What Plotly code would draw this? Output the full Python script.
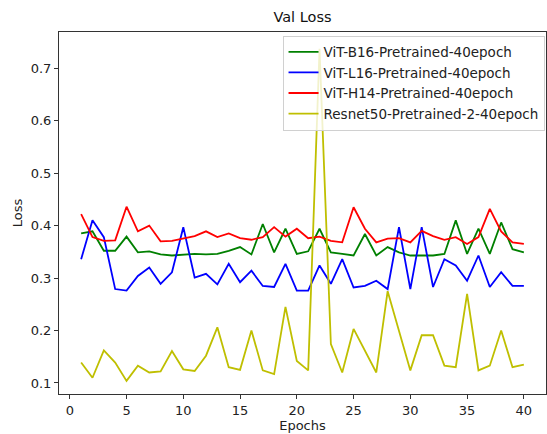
import plotly.graph_objects as go

epochs = list(range(1, 41))

vit_b16 = [0.385, 0.389, 0.352, 0.352, 0.379, 0.349, 0.351, 0.345, 0.343, 0.344,
           0.346, 0.345, 0.346, 0.352, 0.359, 0.345, 0.403, 0.349, 0.394, 0.346,
           0.351, 0.394, 0.349, 0.346, 0.343, 0.384, 0.343, 0.359, 0.349, 0.343,
           0.343, 0.343, 0.346, 0.410, 0.346, 0.394, 0.346, 0.406, 0.355, 0.349]

vit_l16 = [0.336, 0.410, 0.378, 0.279, 0.276, 0.304, 0.320, 0.289, 0.311, 0.397,
           0.301, 0.308, 0.288, 0.327, 0.292, 0.314, 0.285, 0.283, 0.327, 0.276,
           0.276, 0.324, 0.289, 0.336, 0.282, 0.285, 0.295, 0.279, 0.397, 0.279,
           0.397, 0.283, 0.336, 0.324, 0.295, 0.343, 0.283, 0.311, 0.285, 0.285]

vit_h14 = [0.422, 0.378, 0.371, 0.372, 0.436, 0.389, 0.400, 0.370, 0.371, 0.375,
           0.380, 0.389, 0.378, 0.385, 0.376, 0.373, 0.378, 0.397, 0.379, 0.394,
           0.376, 0.379, 0.371, 0.368, 0.435, 0.394, 0.368, 0.375, 0.376, 0.368,
           0.390, 0.380, 0.373, 0.378, 0.365, 0.378, 0.432, 0.389, 0.368, 0.365]

resnet50 = [0.139, 0.110, 0.162, 0.139, 0.104, 0.133, 0.120, 0.122, 0.161, 0.126,
            0.123, 0.152, 0.206, 0.130, 0.125, 0.200, 0.124, 0.117, 0.245, 0.142,
            0.124, 0.737, 0.174, 0.120, 0.203, 0.160, 0.120, 0.275, 0.200, 0.124,
            0.191, 0.191, 0.133, 0.130, 0.270, 0.124, 0.133, 0.200, 0.130, 0.135]

series = [
    ("ViT-B16-Pretrained-40epoch", vit_b16, "#008000"),
    ("ViT-L16-Pretrained-40epoch", vit_l16, "#0000ff"),
    ("ViT-H14-Pretrained-40epoch", vit_h14, "#ff0000"),
    ("Resnet50-Pretrained-2-40epoch", resnet50, "#bfbf00"),
]

fig = go.Figure()
for name, vals, color in series:
    fig.add_trace(go.Scatter(x=epochs, y=vals, mode="lines", name=name,
                             line=dict(color=color, width=1.8)))

font = "DejaVu Sans, sans-serif"
fig.update_layout(
    width=547, height=434,
    margin=dict(l=59, r=1, t=32, b=40),
    paper_bgcolor="white", plot_bgcolor="white",
    font=dict(family=font, size=13, color="#222"),
    title=dict(text="Val Loss", x=0.5, xref="paper", y=1 - 17 / 434,
               yref="container", yanchor="middle", xanchor="center",
               font=dict(size=14.5, color="#111")),
    showlegend=True,
    legend=dict(x=0.997, y=0.99, xanchor="right", yanchor="top",
                bgcolor="rgba(255,255,255,0.8)", bordercolor="#d0d0d0",
                borderwidth=1, font=dict(size=13.5, color="#222"),
                tracegroupgap=0, itemwidth=30),
)
fig.update_xaxes(range=[-0.95, 41.95], tick0=0, dtick=5, ticks="outside",
                 ticklen=4, tickcolor="#333", showline=True, linecolor="#333",
                 linewidth=1, mirror=True, showgrid=False, zeroline=False,
                 tickfont=dict(size=13),
                 title=dict(text="Epochs", standoff=3, font=dict(size=13)))
fig.update_yaxes(range=[0.079, 0.769], tick0=0.1, dtick=0.1, tickformat=".1f",
                 ticks="outside", ticklen=4, tickcolor="#333", showline=True,
                 linecolor="#333", linewidth=1, mirror=True, showgrid=False,
                 zeroline=False, tickfont=dict(size=13),
                 title=dict(text="Loss", standoff=5, font=dict(size=13)))

fig.write_html("out.html")
